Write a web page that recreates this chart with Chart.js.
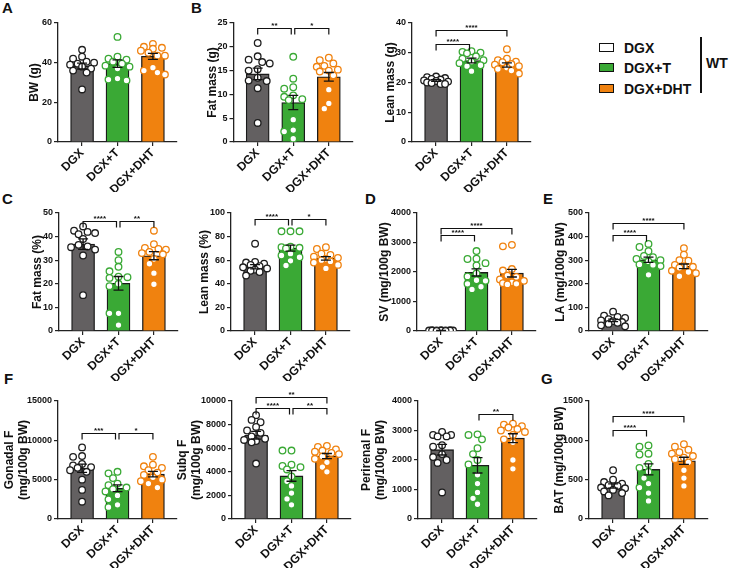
<!DOCTYPE html>
<html>
<head>
<meta charset="utf-8">
<script src="https://cdn.jsdelivr.net/npm/chart.js@4.4.1/dist/chart.umd.min.js"></script>
<style>
  body { margin: 0; background: #fff; width: 729px; height: 568px; position: relative; overflow: hidden;
         font-family: "Liberation Sans", Arial, sans-serif; color: #111; }
  canvas { position: absolute; }
  .tag { position: absolute; font-weight: bold; font-size: 15px; line-height: 1; }
  .key { position: absolute; left: 599px; width: 13px; height: 7px; border: 1px solid #111; }
  .keytxt { position: absolute; left: 624px; font-weight: bold; font-size: 14px; line-height: 16px; }
</style>
</head>
<body>
<div class="tag" style="left:2px;top:0px">A</div>
<div class="tag" style="left:191px;top:0px">B</div>
<div class="tag" style="left:2px;top:191px">C</div>
<div class="tag" style="left:365px;top:191px">D</div>
<div class="tag" style="left:543px;top:191px">E</div>
<div class="tag" style="left:4px;top:371px">F</div>
<div class="tag" style="left:541px;top:371px">G</div>

<div class="key" style="top:43px;background:#fff"></div>
<div class="key" style="top:63px;background:#3aa935"></div>
<div class="key" style="top:84px;background:#f0820f"></div>
<div class="keytxt" style="top:40px">DGX</div>
<div class="keytxt" style="top:60px">DGX+T</div>
<div class="keytxt" style="top:81px">DGX+DHT</div>
<div style="position:absolute;left:700px;top:37px;width:1.5px;height:56px;background:#111"></div>
<div class="keytxt" style="left:706px;top:55px">WT</div>

<script>
const groups = ["DGX", "DGX+T", "DGX+DHT"];
const barColors = ["#636061", "#3aa935", "#f0820f"];
const dotColors = ["#1e1e1e", "#3aa935", "#f0820f"];

// A body weight
const bwPts = [
  [46.5, 43, 42, 40.5, 40, 39.5, 39, 38, 37, 36, 35, 26.5],
  [53, 43, 42, 41.5, 40.5, 39.5, 38.5, 38, 37, 32, 31.5, 31],
  [49.5, 48, 47.5, 47, 46, 45, 43.5, 43.5, 37.5, 36, 35, 34]
];
const bwMean = [38.3, 39.5, 43.2];
const bwSem = [1.5, 1.9, 1.5];
const bwTicks = [0, 20, 40, 60];
const bwSig = [];

// B fat mass
const fatPts = [
  [20.8, 18, 17.3, 16.8, 16.5, 15.3, 15, 13.5, 12.9, 12.8, 11.3, 4],
  [17.9, 13.3, 11.5, 11.2, 9.8, 9.5, 9, 8.8, 4.7, 2.5, 2.2, 0.7],
  [17.7, 17.2, 16.5, 16, 15.8, 15.2, 15, 14.8, 14, 11, 8.1, 7]
];
const fatMean = [14.3, 8.3, 13.7];
const fatSem = [1.2, 1.5, 0.9];
const fatTicks = [0, 5, 10, 15, 20, 25];
const fatSig = [[0, 1, 23.9, "**"], [1, 2, 23.9, "*"]];

// B lean mass
const leanPts = [
  [22, 21.8, 21.5, 21.2, 21, 20.7, 20.5, 20.3, 20, 19.8, 19.5, 19.5],
  [30.5, 30.3, 30, 29.8, 28.8, 28, 27.5, 27, 26.5, 25.8, 25.5, 23.8],
  [31.2, 28, 27.5, 27, 26.8, 26.2, 26, 25.5, 25, 24.5, 24, 23]
];
const leanMean = [20.7, 27.4, 25.9];
const leanSem = [0.3, 0.8, 0.7];
const leanTicks = [0, 10, 20, 30, 40];
const leanSig = [[0, 1, 33.1, "****"], [0, 2, 37.6, "****"]];

// C fat mass %
const fatPctPts = [
  [44.3, 42.5, 42, 41.5, 41, 39, 36.5, 35.8, 35.5, 34.5, 32, 15.2],
  [33.5, 30, 27.2, 25.3, 23, 22.8, 22.5, 20, 19, 7.5, 7.5, 2.5],
  [42.5, 36.8, 35.2, 34.8, 34.5, 33.5, 33, 32.5, 30.5, 28.5, 24.5, 19.8]
];
const fatPctMean = [36.8, 20.2, 31.9];
const fatPctSem = [2.2, 2.9, 1.7];
const fatPctTicks = [0, 10, 20, 30, 40, 50];
const fatPctSig = [[0, 1, 46.8, "****"], [1, 2, 46.8, "**"]];

// C lean mass %
const leanPctPts = [
  [74, 58.5, 58, 57, 56, 55, 54, 53, 52, 51, 50, 47],
  [84.5, 84.5, 84.5, 71.5, 71, 70.5, 70, 65.5, 64, 62.5, 59.5, 55.5],
  [71, 69.5, 65.5, 64.5, 63, 62, 61, 60, 59, 58, 56, 53]
];
const leanPctMean = [54.5, 70.2, 61.5];
const leanPctSem = [1.8, 2.5, 1.5];
const leanPctTicks = [0, 20, 40, 60, 80, 100];
const leanPctSig = [[0, 1, 95, "****"], [1, 2, 95, "*"]];

// D seminal vesicle
const svPts = [
  [30, 20, 10, 15, 5, 25, 10, 20, 15, 5, 30, 10],
  [2710, 2450, 2440, 2300, 2220, 1950, 1850, 1720, 1700, 1600, 1500, 1410],
  [2920, 2870, 2100, 2050, 1880, 1830, 1750, 1700, 1650, 1620, 1600, 1580]
];
const svMean = [16, 1985, 1960];
const svSem = [3, 120, 130];
const svTicks = [0, 1000, 2000, 3000, 4000];
const svSig = [[0, 1, 3240, "****"], [0, 2, 3500, "****"]];

// E levator ani
const laPts = [
  [82, 65, 60, 55, 50, 45, 42, 38, 35, 30, 24, 20],
  [369, 356, 338, 318, 313, 305, 300, 295, 282, 280, 275, 238],
  [351, 323, 300, 298, 280, 275, 272, 268, 255, 250, 245, 232]
];
const laMean = [45, 302, 274];
const laSem = [5.5, 11, 10];
const laTicks = [0, 100, 200, 300, 400, 500];
const laSig = [[0, 1, 407, "****"], [0, 2, 459, "****"]];

// F gonadal fat
const gonPts = [
  [9100, 8000, 7900, 7000, 6800, 6600, 6500, 6200, 6000, 5000, 3700, 2200],
  [6000, 5800, 5200, 4500, 4300, 4000, 3800, 3500, 3000, 2500, 1800, 1500],
  [7900, 6900, 6700, 6500, 6200, 5900, 5600, 5300, 5000, 4800, 4500, 4000]
];
const gonMean = [6450, 3900, 5700];
const gonSem = [520, 430, 350];
const gonTicks = [0, 5000, 10000, 15000];
const gonSig = [[0, 1, 10900, "***"], [1, 2, 10900, "*"]];

// F subcutaneous fat
const subqPts = [
  [8800, 8400, 8200, 7800, 7500, 7300, 7000, 6800, 6700, 6600, 6500, 4700],
  [5800, 5800, 4600, 4500, 4400, 4200, 3600, 3200, 2800, 2200, 1700, 1200],
  [6200, 6100, 5900, 5800, 5700, 5600, 5500, 5300, 5100, 4800, 4400, 4000]
];
const subqMean = [7100, 3650, 5330];
const subqSem = [330, 450, 220];
const subqTicks = [0, 2000, 4000, 6000, 8000, 10000];
const subqSig = [[0, 1, 9440, "****"], [1, 2, 9440, "**"], [0, 2, 10340, "**"]];

// F perirenal fat
const periPts = [
  [2950, 2850, 2850, 2800, 2800, 2500, 2450, 2200, 2100, 2000, 1900, 900],
  [2870, 2850, 2700, 2400, 2200, 2000, 1850, 1500, 1200, 900, 700, 500],
  [3230, 3200, 3150, 3100, 3050, 3000, 2950, 2850, 2700, 2600, 2000, 1700]
];
const periMean = [2350, 1820, 2740];
const periSem = [180, 260, 150];
const periTicks = [0, 1000, 2000, 3000, 4000];
const periSig = [[1, 2, 3550, "**"]];

// G brown adipose tissue
const batPts = [
  [620, 500, 470, 450, 430, 420, 400, 390, 370, 350, 330, 300],
  [935, 920, 830, 820, 700, 650, 600, 520, 450, 400, 330, 230],
  [950, 920, 880, 850, 830, 800, 780, 760, 720, 620, 520, 420]
];
const batMean = [420, 630, 740];
const batSem = [27, 70, 45];
const batTicks = [0, 500, 1000, 1500];
const batSig = [[0, 1, 1130, "****"], [0, 2, 1305, "****"]];

const rows = [{ top: 23, bottom: 141.5 }, { top: 213, bottom: 331 }, { top: 401, bottom: 518.5 }];
const axisLen = 119;
const xMin = -0.68, xMax = 2.68;

const panels = [
  { title: "BW (g)", pts: bwPts, mean: bwMean, sem: bwSem, ticks: bwTicks, sig: bwSig, axisX: 58, titleX: 34, row: 0 },
  { title: "Fat mass (g)", pts: fatPts, mean: fatMean, sem: fatSem, ticks: fatTicks, sig: fatSig, axisX: 233.5, titleX: 212, row: 0 },
  { title: "Lean mass (g)", pts: leanPts, mean: leanMean, sem: leanSem, ticks: leanTicks, sig: leanSig, axisX: 412, titleX: 390, row: 0 },
  { title: "Fat mass (%)", pts: fatPctPts, mean: fatPctMean, sem: fatPctSem, ticks: fatPctTicks, sig: fatPctSig, axisX: 59, titleX: 37.5, row: 1 },
  { title: "Lean mass (%)", pts: leanPctPts, mean: leanPctMean, sem: leanPctSem, ticks: leanPctTicks, sig: leanPctSig, axisX: 231, titleX: 204, row: 1 },
  { title: "SV (mg/100g BW)", pts: svPts, mean: svMean, sem: svSem, ticks: svTicks, sig: svSig, axisX: 417, titleX: 384, row: 1 },
  { title: "LA (mg/100g BW)", pts: laPts, mean: laMean, sem: laSem, ticks: laTicks, sig: laSig, axisX: 589, titleX: 560, row: 1 },
  { title: ["Gonadal F", "(mg/100g BW)"], pts: gonPts, mean: gonMean, sem: gonSem, ticks: gonTicks, sig: gonSig, axisX: 58, titleX: 9, row: 2 },
  { title: ["Subq F", "(mg/100g BW)"], pts: subqPts, mean: subqMean, sem: subqSem, ticks: subqTicks, sig: subqSig, axisX: 232, titleX: 182, row: 2 },
  { title: ["Perirenal F", "(mg/100g BW)"], pts: periPts, mean: periMean, sem: periSem, ticks: periTicks, sig: periSig, axisX: 418, titleX: 366, row: 2 },
  { title: "BAT (mg/100g BW)", pts: batPts, mean: batMean, sem: batSem, ticks: batTicks, sig: batSig, axisX: 589, titleX: 559, row: 2 }
];

Chart.defaults.font.family = '"Liberation Sans", Arial, sans-serif';
Chart.defaults.color = "#111";

// spread the dots sideways so they do not sit on top of each other
function swarm(pts, pxPerY) {
  const pxPerX = axisLen / (xMax - xMin);
  const out = [];
  pts.forEach((vals, g) => {
    const placed = [];
    [...vals].sort((a, b) => b - a).forEach(v => {
      const py = v * pxPerY;
      let best = 0, bestD = -1;
      for (const off of [0, -4.5, 4.5, -9, 9, -12, 12]) {
        let d = Infinity;
        placed.forEach(q => { d = Math.min(d, Math.hypot(q.px - off, q.py - py)); });
        if (d >= 6.5) { best = off; bestD = d; break; }
        if (d > bestD) { bestD = d; best = off; }
      }
      placed.push({ px: best, py });
      out.push({ x: g + best / pxPerX, y: v, g });
    });
  });
  return out;
}

function makePanel(p) {
  const r = rows[p.row];
  const plotH = r.bottom - r.top;
  const padTop = 16, xH = 50, lh = 12 * 1.2;
  const left = Math.round(p.titleX - lh / 2);
  const yW = p.axisX - left;
  const canvas = document.createElement("canvas");
  canvas.width = Math.round(yW + axisLen + 4);
  canvas.height = Math.round(padTop + plotH + xH);
  canvas.style.left = left + "px";
  canvas.style.top = (r.top - padTop) + "px";
  document.body.appendChild(canvas);

  const yMax = p.ticks[p.ticks.length - 1];
  const dots = swarm(p.pts, plotH / yMax);

  const marks = {
    id: "marks",
    afterDatasetsDraw(chart) {
      const { ctx, scales: { x, y } } = chart;
      ctx.save();
      ctx.strokeStyle = "#111";
      ctx.lineWidth = 1.3;
      p.mean.forEach((m, i) => {
        const cx = x.getPixelForValue(i);
        const t = y.getPixelForValue(m + p.sem[i]);
        const b = y.getPixelForValue(m - p.sem[i]);
        ctx.beginPath();
        ctx.moveTo(cx, t); ctx.lineTo(cx, b);
        ctx.moveTo(cx - 5, t); ctx.lineTo(cx + 5, t);
        ctx.moveTo(cx - 5, b); ctx.lineTo(cx + 5, b);
        ctx.stroke();
      });
      // significance brackets
      ctx.lineWidth = 1.2;
      ctx.fillStyle = "#111";
      ctx.font = 'bold 8px "Liberation Sans", Arial';
      ctx.textAlign = "center";
      ctx.textBaseline = "alphabetic";
      p.sig.forEach(([a, b, v, lab]) => {
        const xa = x.getPixelForValue(a) + (a > 0 ? 1.5 : 0);
        const xb = x.getPixelForValue(b) - (b < 2 ? 2 : 0);
        const yy = Math.round(y.getPixelForValue(v)) + 0.5;
        ctx.beginPath();
        ctx.moveTo(xa, yy + 6); ctx.lineTo(xa, yy); ctx.lineTo(xb, yy); ctx.lineTo(xb, yy + 6);
        ctx.stroke();
        ctx.fillText(lab, (xa + xb) / 2, yy - 1);
      });
      ctx.restore();
    }
  };

  new Chart(canvas, {
    type: "bar",
    data: {
      datasets: [
        {
          type: "scatter",
          data: dots,
          order: 1,
          pointRadius: 3.3,
          pointBorderWidth: 1.3,
          pointBackgroundColor: "#fff",
          pointBorderColor: c => dotColors[c.raw ? c.raw.g : 0]
        },
        {
          type: "bar",
          data: p.mean.map((m, i) => ({ x: i, y: m })),
          order: 2,
          backgroundColor: barColors,
          borderColor: "#1a1a1a",
          borderWidth: 1.3,
          borderSkipped: "start",
          barThickness: 23
        }
      ]
    },
    options: {
      responsive: false,
      maintainAspectRatio: false,
      animation: false,
      devicePixelRatio: 1,
      layout: { autoPadding: false, padding: { top: padTop, right: 4, left: 0, bottom: 0 } },
      plugins: { legend: { display: false }, tooltip: { enabled: false } },
      scales: {
        x: {
          type: "linear",
          offset: false,
          min: xMin,
          max: xMax,
          afterBuildTicks: s => { s.ticks = groups.map((g, i) => ({ value: i })); },
          afterFit: s => { s.height = xH; s.paddingLeft = 0; s.paddingRight = 0; },
          ticks: {
            autoSkip: false, minRotation: 45, maxRotation: 45, padding: 0,
            font: { size: 12, weight: "bold" },
            callback: v => groups[v]
          },
          grid: { offset: false, drawOnChartArea: false, drawTicks: true, tickLength: 4, color: "#222", lineWidth: 1.2 },
          border: { color: "#222", width: 1.3 }
        },
        y: {
          min: 0,
          max: yMax,
          afterBuildTicks: s => { s.ticks = p.ticks.map(v => ({ value: v })); },
          afterFit: s => { s.width = yW; s.paddingTop = 0; s.paddingBottom = 0; },
          ticks: { padding: 2, font: { size: 9, weight: "bold" }, callback: v => String(v) },
          grid: { drawOnChartArea: false, drawTicks: true, tickLength: 4, color: "#222", lineWidth: 1.2 },
          border: { color: "#222", width: 1.3 },
          title: { display: true, text: p.title, padding: 0, font: { size: 12, weight: "bold" } }
        }
      }
    },
    plugins: [marks]
  });
}

panels.forEach(makePanel);
</script>
</body>
</html>
